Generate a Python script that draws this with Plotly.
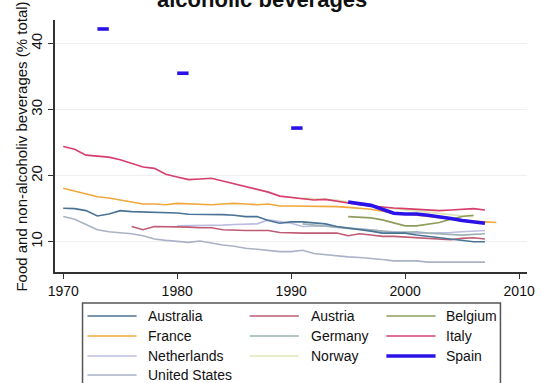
import plotly.graph_objects as go

# Share of household spending on food and non-alcoholic beverages (% of total)
years_full = list(range(1970, 2008))

australia = [15.05, 15.0, 14.7, 13.9, 14.2, 14.7, 14.55, 14.5, 14.5, 14.35,
             14.35, 14.15, 14.15, 14.15, 14.1, 14.0, 13.8, 13.8, 13.2, 12.8,
             13.0, 13.0, 12.8, 12.7, 12.3, 12.1, 11.9, 11.6, 11.3, 11.3,
             11.3, 11.0, 10.8, 10.6, 10.4, 10.2, 10.0, 10.0]
italy = [24.4, 24.0, 23.1, 22.9, 22.8, 22.4, 21.9, 21.3, 21.1, 20.2,
         19.8, 19.4, 19.5, 19.6, 19.2, 18.8, 18.3, 17.9, 17.5, 16.9,
         16.7, 16.4, 16.3, 16.4, 16.1, 15.8, 15.6, 15.4, 15.2, 15.1,
         15.0, 14.9, 14.8, 14.7, 14.8, 14.9, 15.0, 14.8]
united_states = [13.8, 13.4, 12.6, 11.8, 11.5, 11.4, 11.2, 10.9, 10.4, 10.2,
                 10.1, 9.9, 10.1, 9.75, 9.5, 9.3, 9.0, 8.85, 8.7, 8.5,
                 8.5, 8.7, 8.2, 8.0, 7.9, 7.7, 7.6, 7.5, 7.3, 7.1,
                 7.1, 7.1, 6.9, 6.9, 6.9, 6.9, 6.9, 6.9]

years_france = list(range(1970, 2009))
france = [18.1, 17.7, 17.3, 16.8, 16.6, 16.3, 16.0, 15.7, 15.7, 15.6,
          15.8, 15.7, 15.6, 15.6, 15.7, 15.8, 15.7, 15.6, 15.7, 15.4,
          15.4, 15.4, 15.4, 15.4, 15.3, 15.2, 15.1, 14.9, 14.6, 14.3,
          14.2, 14.0, 13.8, 13.6, 13.5, 13.3, 13.1, 13.0, 12.9]

years_austria = list(range(1976, 2008))
austria = [12.3, 11.8, 12.3, 12.3, 12.3, 12.2, 12.1, 12.1, 11.8, 11.7,
           11.7, 11.7, 11.7, 11.4, 11.3, 11.3, 11.3, 11.3, 11.3, 10.9,
           11.2, 11.0, 10.8, 10.8, 10.7, 10.6, 10.6, 10.4, 10.3, 10.5,
           10.6, 10.4]

years_netherlands = list(range(1980, 2008))
netherlands = [12.4, 12.4, 12.5, 12.5, 12.5, 12.6, 12.6, 12.7, 13.3, 13.0,
               12.8, 12.3, 12.3, 12.4, 12.2, 12.1, 11.9, 11.8, 11.6, 11.5,
               11.3, 11.3, 11.3, 11.3, 11.4, 11.5, 11.6, 11.7]

years_germany = list(range(1991, 2008))
germany = [12.7, 12.5, 12.3, 12.2, 12.0, 11.9, 11.8, 11.6, 11.4, 11.4,
           11.5, 11.3, 11.2, 11.1, 11.0, 11.1, 11.2]

years_norway = list(range(1991, 2007))
norway = [16.6, 16.5, 16.4, 16.3, 16.0, 15.7, 15.4, 15.2, 15.0, 14.8,
          14.6, 14.5, 14.3, 14.1, 13.9, 13.8]

years_belgium = list(range(1995, 2007))
belgium = [13.8, 13.7, 13.6, 13.3, 12.8, 12.4, 12.4, 12.6, 12.9, 13.4,
           13.8, 14.0]

# Spain: isolated early observations (pairs of years) then a continuous run
years_spain = [1973, 1974, None, 1980, 1981, None, 1990, 1991, None] + list(range(1995, 2008))
spain = [42.2, 42.2, None, 35.5, 35.5, None, 27.2, 27.2, None,
         16.0, 15.8, 15.5, 14.9, 14.3, 14.2, 14.2, 14.0, 13.8, 13.5, 13.2, 13.0, 12.8]

countries = ["Australia", "Austria", "Belgium", "France", "Germany", "Italy",
             "Netherlands", "Norway", "Spain", "United States"]
series = {
    "Australia": (years_full, australia),
    "Austria": (years_austria, austria),
    "Belgium": (years_belgium, belgium),
    "France": (years_france, france),
    "Germany": (years_germany, germany),
    "Italy": (years_full, italy),
    "Netherlands": (years_netherlands, netherlands),
    "Norway": (years_norway, norway),
    "Spain": (years_spain, spain),
    "United States": (years_full, united_states),
}
colors = {
    "Australia": "#4b7396",
    "Austria": "#bf5b74",
    "Belgium": "#8e9c5c",
    "France": "#f0a83c",
    "Germany": "#9db3b3",
    "Italy": "#d63e6c",
    "Netherlands": "#bcbce0",
    "Norway": "#dfe6b8",
    "Spain": "#2a12e8",
    "United States": "#aab2c6",
}
widths = {c: 1.6 for c in countries}
widths["Spain"] = 3.6

tick_years = [1970, 1980, 1990, 2000, 2010]
tick_vals_y = [10, 20, 30, 40]

W, H = 541, 383
ML, MR, MT, MB = 55, 6, 20, 111
plot_w = W - ML - MR
plot_h = H - MT - MB


def px(x):
    return (x - ML) / plot_w


def py(y):
    return (H - MB - y) / plot_h


fig = go.Figure()
draw_order = ["United States", "Netherlands", "Germany", "Austria", "Australia",
              "Norway", "Belgium", "France", "Italy", "Spain"]
for name in draw_order:
    xs, ys = series[name]
    fig.add_trace(go.Scatter(
        x=xs, y=ys, mode="lines", name=name, showlegend=False,
        line=dict(color=colors[name], width=widths[name]),
        connectgaps=False,
    ))

# Legend: three columns inside a framed box below the plot
shapes = [dict(type="rect", xref="paper", yref="paper",
               x0=px(83), x1=px(508), y0=py(395), y1=py(303),
               line=dict(color="#555555", width=1.5), fillcolor="white", layer="above")]
annotations = []
col_line_x = [(88, 138), (253, 303), (392, 442)]
col_text_x = [148, 313, 451]
row_y = [316, 336, 356, 375]
for i, name in enumerate(countries):
    r, c = divmod(i, 3)
    x0, x1 = col_line_x[c]
    shapes.append(dict(type="line", xref="paper", yref="paper",
                       x0=px(x0), x1=px(x1), y0=py(row_y[r]), y1=py(row_y[r]),
                       line=dict(color=colors[name], width=widths[name])))
    annotations.append(dict(text=name, xref="paper", yref="paper",
                            x=px(col_text_x[c]), y=py(row_y[r]),
                            xanchor="left", yanchor="middle", showarrow=False,
                            font=dict(size=14, color="#111111")))

# Title (second line of a two-line heading, top line runs off the page)
annotations.append(dict(text="<b>alcoholic beverages</b>", xref="paper", yref="paper",
                        x=px(265), y=py(14), xanchor="center", yanchor="bottom",
                        showarrow=False, font=dict(size=22, color="#111111")))

# Vertical y-axis title
annotations.append(dict(text="Food and non-alcoholiv beverages (% total)",
                        xref="paper", yref="paper", x=px(20), y=py(147),
                        xanchor="center", yanchor="middle", textangle=-90,
                        showarrow=False, font=dict(size=15, color="#111111")))

fig.update_layout(
    width=W, height=H,
    margin=dict(l=ML, r=MR, t=MT, b=MB, pad=0),
    paper_bgcolor="white", plot_bgcolor="white",
    font=dict(family="Liberation Sans, Arial, sans-serif", color="#111111"),
    shapes=shapes, annotations=annotations,
)
fig.update_xaxes(
    range=[1969.28, 2010.69], tickvals=tick_years, ticktext=[str(t) for t in tick_years],
    showgrid=False, zeroline=False, showline=True, linecolor="#333333", linewidth=1.5,
    ticks="outside", ticklen=5, tickcolor="#333333", tickwidth=1.3,
    tickfont=dict(size=14), ticklabeloverflow="allow", fixedrange=True,
)
fig.update_yaxes(
    range=[5.41, 43.56], tickvals=tick_vals_y, tickangle=-90,
    showgrid=True, gridcolor="#efefef", gridwidth=1, zeroline=False,
    showline=True, linecolor="#333333", linewidth=1.5,
    ticks="outside", ticklen=5, tickcolor="#333333", tickwidth=1.3,
    tickfont=dict(size=15), ticklabeloverflow="allow",
    fixedrange=True,
)

fig.write_html("out.html")
